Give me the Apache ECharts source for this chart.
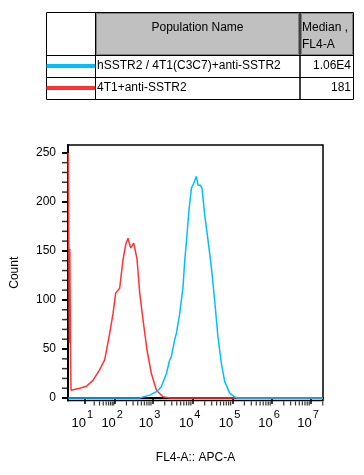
<!DOCTYPE html>
<html>
<head>
<meta charset="utf-8">
<script src="https://cdn.jsdelivr.net/npm/echarts@6/dist/echarts.min.js"></script>
<style>html,body{margin:0;padding:0;background:#fff}#chart{width:364px;height:475px}</style>
</head>
<body>
<div id="chart"></div>
<script>
// ---- data (x in display channel units 0..1000 of the biexponential FL4-A axis) ----
const populationNames = ['hSSTR2 / 4T1(C3C7)+anti-SSTR2', '4T1+anti-SSTR2'];
const medians = ['1.06E4', '181'];
const seriesColors = ['#00bfff', '#ff3333'];

const redX = [1, 4, 5.5, 7, 8.5, 10.5, 12, 14, 19.6, 45.9, 72.2, 98, 124.3, 143.9, 163.5, 176.5, 187, 202.7, 215.7, 226, 235.3, 245.9, 257.6, 270.6, 281.2, 294.1, 309.8, 327, 346.7, 372.5, 398.8, 1000];
const redY = [250, 250, 56, 152, 150, 30, 8, 6, 8, 10, 12, 18, 29, 39, 66, 86, 107, 112, 141, 156, 163, 153, 158, 142, 107, 80, 49, 25, 8, 1.4, 0, 0];

const blueX = [0, 281, 320, 347, 366, 386, 399, 405, 418, 425, 438, 451, 458, 464, 474.5, 484, 493, 503.5, 510, 519, 525.5, 536, 549, 562, 575, 588, 601.6, 614.5, 634, 654, 665, 1000];
const blueY = [0, 0, 3, 6.5, 11.6, 25, 39, 42, 59, 66, 86, 113, 141, 158, 192, 214, 219, 226, 217, 217, 214, 187, 161, 134, 100, 62.5, 35, 17, 5, 1, 0, 0];

// decade tick positions on the display axis and their labels
const decadePos = [67.5, 185, 332, 489, 645, 800, 953];
const decadeExp = ['1', '2', '3', '4', '5', '6', '7'];
const yMajor = [0, 50, 100, 150, 200, 250];
const yMinor = [10, 20, 30, 40, 60, 70, 80, 90, 110, 120, 130, 140, 160, 170, 180, 190, 210, 220, 230, 240];

// ---- axis range ----
const X_MIN = 0, X_MAX = 1000, Y_MIN = -2.5, Y_MAX = 258;

// ---- derived ----
const redData = redX.map((x, i) => [x, redY[i]]);
const blueData = blueX.map((x, i) => [x, blueY[i]]);
const xMinor = [];
for (let k = 0; k < decadePos.length; k++) {
  const span = k < decadePos.length - 1 ? decadePos[k + 1] - decadePos[k] : decadePos[k] - decadePos[k - 1];
  for (let m = 2; m <= 9; m++) {
    const v = decadePos[k] + Math.log10(m) * span;
    if (v <= X_MAX) xMinor.push(v);
  }
}

const FONT = '"Liberation Sans", Arial, sans-serif';
const chart = echarts.init(document.getElementById('chart'), null, {renderer: 'canvas'});

const txt = (text, x, y, align) => ({
  type: 'text', z: 10,
  style: {text: text, x: x, y: y, fill: '#000', font: '12px ' + FONT, textAlign: align, textVerticalAlign: 'middle'}
});
const line = (x1, y1, x2, y2, w, c) => ({
  type: 'line', z: 9, shape: {x1, y1, x2, y2}, style: {stroke: c || '#000', lineWidth: w || 1}
});

const graphics = [
  {type: 'rect', z: 8, shape: {x: 96.5, y: 13.5, width: 202, height: 41}, style: {fill: '#c0c0c0', stroke: '#808080', lineWidth: 1}},
  {type: 'rect', z: 8, shape: {x: 301.5, y: 13.5, width: 51, height: 41}, style: {fill: '#c0c0c0', stroke: '#808080', lineWidth: 1}},
  {type: 'rect', z: 9, shape: {x: 46.5, y: 12.5, width: 307, height: 87}, style: {fill: 'none', stroke: '#000', lineWidth: 1}},
  line(46.5, 55.5, 353.5, 55.5),
  line(46.5, 77.5, 353.5, 77.5),
  line(95.5, 12.5, 95.5, 99.5),
  line(300, 12.5, 300, 99.5, 1.5),
  line(46.5, 66, 95, 66, 4, seriesColors[0]),
  line(46.5, 88, 95, 88, 4, seriesColors[1]),
  txt('Population Name', 197.5, 28, 'center'),
  txt('Median ,', 302, 28, 'left'),
  txt('FL4-A', 302, 45, 'left'),
  txt(populationNames[0], 97, 66, 'left'),
  txt(medians[0], 351, 66, 'right'),
  txt(populationNames[1], 97, 88, 'left'),
  txt(medians[1], 351, 88, 'right')
];

const option = {
  animation: false,
  backgroundColor: '#fff',
  textStyle: {fontFamily: FONT},
  graphic: graphics,
  grid: {left: 68, top: 145, width: 255, height: 255.5, show: true, borderColor: '#000', borderWidth: 1.5, containLabel: false},
  xAxis: {
    type: 'value', min: X_MIN, max: X_MAX,
    name: 'FL4-A:: APC-A', nameLocation: 'middle', nameGap: 51,
    nameTextStyle: {fontSize: 12, color: '#000', fontFamily: FONT},
    axisLine: {show: true, lineStyle: {color: '#000', width: 2}},
    splitLine: {show: false},
    axisTick: {show: true, inside: false, length: 6, customValues: decadePos, lineStyle: {color: '#000', width: 1.5}},
    axisLabel: {
      show: true, margin: 9, customValues: decadePos,
      formatter: function (v) {
        let idx = 0, best = 1e9;
        decadePos.forEach((p, i) => { if (Math.abs(p - v) < best) { best = Math.abs(p - v); idx = i; } });
        return '{b|10}{e|' + decadeExp[idx] + '}';
      },
      rich: {
        b: {fontSize: 13, lineHeight: 28, color: '#000', fontFamily: FONT},
        e: {fontSize: 11, verticalAlign: 'top', color: '#000', fontFamily: FONT, padding: [0, 6, 0, 1]}
      }
    }
  },
  yAxis: {
    type: 'value', min: Y_MIN, max: Y_MAX,
    name: 'Count', nameLocation: 'middle', nameGap: 47, nameRotate: 90,
    nameTextStyle: {fontSize: 12, color: '#000', fontFamily: FONT},
    axisLine: {show: true, lineStyle: {color: '#000', width: 2}},
    splitLine: {show: false},
    axisTick: {show: true, inside: false, length: 6, customValues: yMajor, lineStyle: {color: '#000', width: 2}},
    axisLabel: {show: true, margin: 12, customValues: yMajor, fontSize: 12, color: '#000', fontFamily: FONT}
  },
  series: [{
    name: populationNames[1], type: 'line', data: redData, showSymbol: false, symbol: 'none',
    lineStyle: {color: seriesColors[1], width: 1.5}, z: 2, clip: true
  }, {
    name: populationNames[0], type: 'line', data: blueData, showSymbol: false, symbol: 'none',
    lineStyle: {color: seriesColors[0], width: 1.5}, z: 3, clip: true
  }, {
    // minor ticks on the count axis
    type: 'scatter', silent: true, clip: false, z: 5,
    data: yMinor.map(v => [X_MIN, v]),
    symbol: 'rect', symbolSize: [5, 1.5], symbolOffset: [-3.5, 0],
    itemStyle: {color: '#000'}
  }, {
    // minor ticks on the FL4-A axis
    type: 'scatter', silent: true, clip: false, z: 5,
    data: xMinor.map(v => [v, Y_MIN]),
    symbol: 'rect', symbolSize: [1.2, 4], symbolOffset: [0, 3],
    itemStyle: {color: '#000'}
  }]
};
chart.setOption(option);
</script>
</body>
</html>
